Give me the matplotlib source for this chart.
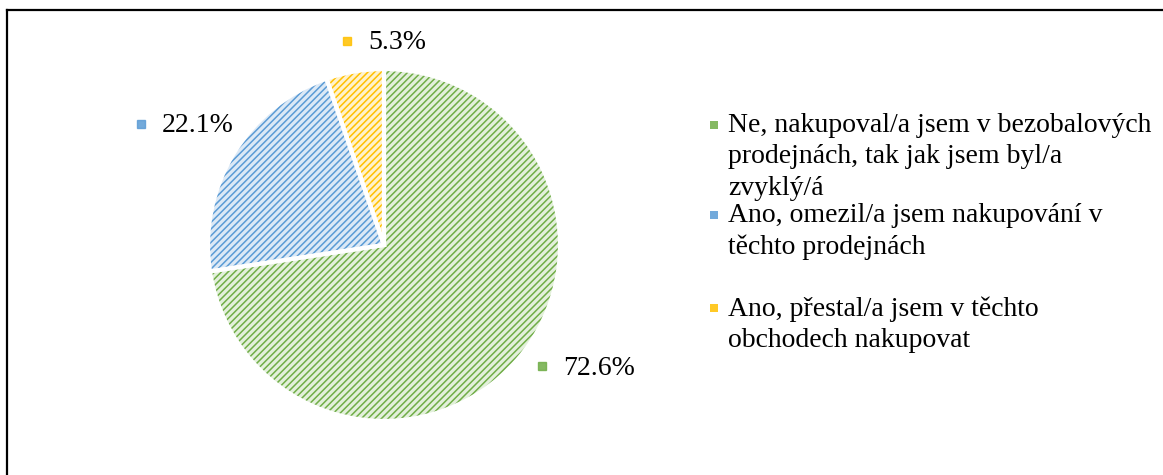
import matplotlib
matplotlib.use("Agg")
import matplotlib.pyplot as plt
from matplotlib.lines import Line2D

# ---- data ----
categories = [
    "Ne, nakupoval/a jsem v bezobalových\nprodejnách, tak jak jsem byl/a\nzvyklý/á",
    "Ano, omezil/a jsem nakupování v\ntěchto prodejnách",
    "Ano, přestal/a jsem v těchto\nobchodech nakupovat",
]
values = [72.6, 22.1, 5.3]
value_labels = ["72.6%", "22.1%", "5.3%"]

# ---- styles ----
hatch_colors = ["#70ad47", "#5b9bd5", "#ffc000"]
fill_colors = ["#e3f0db", "#dce9f6", "#fff2cc"]
label_pos = [(1.02, -0.70), (-1.26, 0.68), (-0.09, 1.15)]   # text left, axes data units
legend_y = [125, 215, 308]   # px from top, first line centre

plt.rcParams["font.family"] = ["Liberation Serif", "DejaVu Serif"]
plt.rcParams["hatch.linewidth"] = 1.1

W, H, DPI = 1163, 475, 100
fig = plt.figure(figsize=(W / DPI, H / DPI), dpi=DPI)

cx, cy, r = 384, 245, 176
ax = fig.add_axes([(cx - r) / W, (H - cy - r) / H, 2 * r / W, 2 * r / H])
ax.axis("off")

# base fill
ax.pie(values, colors=fill_colors, startangle=90, counterclock=False, radius=1,
       wedgeprops=dict(linewidth=0))
# hatch overlay
wedges, _ = ax.pie(values, startangle=90, counterclock=False, radius=1,
                   wedgeprops=dict(fill=False, linewidth=0))
for w, hc in zip(wedges, hatch_colors):
    w.set_hatch("/////")
    w.set_edgecolor(hc)
    w.set_linewidth(0)
# white separators
ax.pie(values, startangle=90, counterclock=False, radius=1,
       wedgeprops=dict(fill=False, edgecolor="white", linewidth=3))
ax.set_xlim(-1, 1)
ax.set_ylim(-1, 1)

# data labels
for (lx, ly), lab, hc in zip(label_pos, value_labels, hatch_colors):
    ax.text(lx, ly, lab, fontsize=20, va="center", ha="left", color="black",
            clip_on=False)
    ax.plot([lx - 0.12], [ly + 0.01], marker="s", markersize=6, color=hc,
            alpha=0.85, clip_on=False)

# legend
for cat, hc, y in zip(categories, hatch_colors, legend_y):
    fig.text(728 / W, 1 - (y - 12) / H, cat, fontsize=20, va="top", ha="left",
             linespacing=1.33)
    fig.patches.append(plt.Rectangle((710 / W, 1 - (y + 4) / H), 8 / W, 8 / H,
                                     transform=fig.transFigure, facecolor=hc,
                                     edgecolor="none", alpha=0.85))

# chart border (top and left visible)
fig.add_artist(Line2D([6.5 / W, 1], [1 - 10 / H, 1 - 10 / H], color="black",
                      linewidth=1.6, transform=fig.transFigure))
fig.add_artist(Line2D([6.5 / W, 6.5 / W], [0, 1 - 10 / H], color="black",
                      linewidth=1.6, transform=fig.transFigure))

fig.savefig("out.png", dpi=DPI, facecolor="white")
